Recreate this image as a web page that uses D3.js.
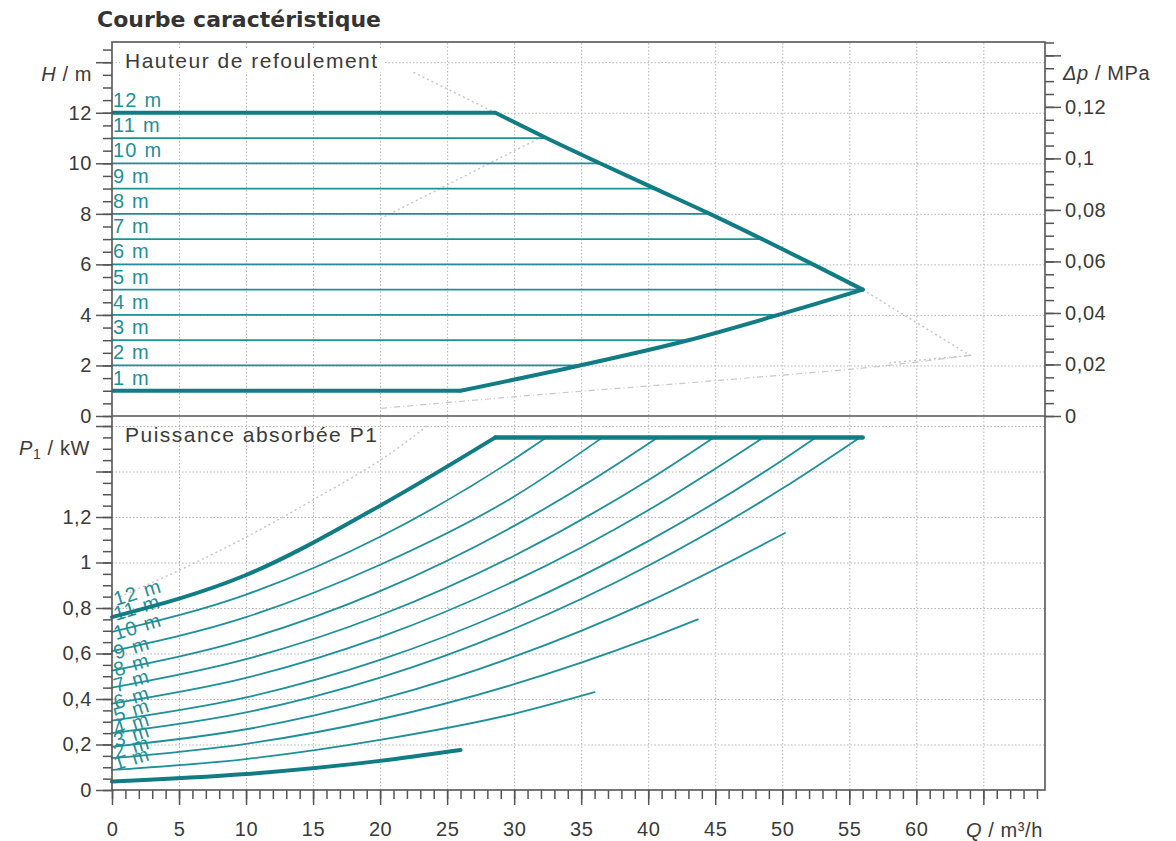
<!DOCTYPE html>
<html>
<head>
<meta charset="utf-8">
<script src="https://cdn.jsdelivr.net/npm/d3@7"></script>
<style>
  body { margin: 0; background: #fff; }
  text { font-family: "Liberation Sans", Arial, sans-serif; }
</style>
</head>
<body>
<svg id="chart" width="1176" height="841"></svg>
<script>
// courbes par hauteur (m)
const heads = [1, 2, 3, 4, 5, 6, 7, 8, 9, 10, 11, 12];
// debit ou la droite H s'arrete (diagramme du haut)
const hEnd = [26, 34.9, 43.0, 49.7, 56, 52.3, 48.5, 44.6, 40.5, 36.4, 32.4, 28.6];

// puissance P1 (kW) lue a Q = 0, 10, 20, 30, 40, 50
const flowSteps = [0, 10, 20, 30, 40, 50];
const p1m  = [0.037, 0.070, 0.128];
const p2m  = [0.088, 0.136, 0.220, 0.335];
const p3m  = [0.140, 0.203, 0.311, 0.465, 0.665];
const p4m  = [0.190, 0.267, 0.399, 0.586, 0.827];
const p5m  = [0.250, 0.341, 0.494, 0.709, 0.986, 1.325];
const p6m  = [0.305, 0.407, 0.572, 0.801, 1.094, 1.450];
const p7m  = [0.380, 0.493, 0.672, 0.918, 1.230];
const p8m  = [0.450, 0.575, 0.768, 1.030, 1.362];
const p9m  = [0.525, 0.662, 0.874, 1.161, 1.522];
const p10m = [0.610, 0.760, 0.990, 1.290];
const p11m = [0.695, 0.859, 1.113, 1.455];
const p12m = [0.760, 0.945, 1.250];
const powerByHead = [p1m, p2m, p3m, p4m, p5m, p6m, p7m, p8m, p9m, p10m, p11m, p12m];
// fin de chaque courbe de puissance
const pEndQ = [26, 36, 43.7, 50.2, 55.8, 52.5, 48.6, 44.9, 40.7, 36.6, 32.4, 28.6];
const pEndP = [0.176, 0.43, 0.75, 1.13, 1.55, 1.55, 1.55, 1.55, 1.55, 1.55, 1.55, 1.55];
// limite de puissance max
const pMaxLine = [[28.6, 1.55], [56, 1.55]];

// courbes grises en pointille (autre variante)
const ghostTop1 = [[22.5, 13.6], [28.6, 12]];
const ghostTop2 = [[56, 5], [64, 2.4], [58, 2.1]];
const ghostTop3 = [[64, 2.4], [57, 1.95], [45, 1.4], [32, 0.85], [20, 0.3]];
const ghostTop4 = [[20, 7.8], [31.9, 11]];
const ghostBot1 = [[0.6, 0.85], [6.6, 1.01], [15, 1.275], [21.5, 1.51], [23.5, 1.6]];

// axes
const qMajor = d3.range(0, 65.1, 5);
const qMinor = d3.range(0, 69.1, 1);
const hMajor = d3.range(0, 14.1, 2);
const hMinor = d3.range(0, 14.51, 0.5);
const pMajor = [0, 0.2, 0.4, 0.6, 0.8, 1, 1.2, 1.4, 1.6];
const pMinor = d3.range(0, 1.601, 0.05);
const dpMajor = [0, 0.02, 0.04, 0.06, 0.08, 0.1, 0.12, 0.14];
const dpMinor = d3.range(0, 0.1451, 0.005);
const rhoG = 0.00981; // MPa par m

const teal = "#1f9098", tealDark = "#127c84", ink = "#3a3a3a";

const svg = d3.select("#chart");
const L = 112, R = 1045, T = 42, M = 416, B = 790;
const x = d3.scaleLinear().domain([0, 69.6]).range([L, R]);
const yH = d3.scaleLinear().domain([0, 14.8]).range([M, T]);
const yP = d3.scaleLinear().domain([0, 1.644]).range([B, M]);
const yDp = d3.scaleLinear().domain([0, 14.8 * rhoG]).range([M, T]);

const comma = d => d === 0 ? "0" : String(+d.toFixed(3)).replace(".", ",");

// quadrillage
function grid(g) {
  g.select(".domain").remove();
  g.selectAll("line").attr("stroke", "#b5b5b5").attr("stroke-width", 1).attr("stroke-dasharray", "1.5,2");
}
svg.append("g").attr("transform", `translate(0,${B})`)
  .call(d3.axisBottom(x).tickValues(qMajor.filter(d => d > 0)).tickSize(-(B - T)).tickFormat(""))
  .call(grid);
svg.append("g").attr("transform", `translate(${L},0)`)
  .call(d3.axisLeft(yH).tickValues(hMajor.filter(d => d > 0)).tickSize(-(R - L)).tickFormat(""))
  .call(grid);
svg.append("g").attr("transform", `translate(${L},0)`)
  .call(d3.axisLeft(yP).tickValues(pMajor.filter(d => d > 0)).tickSize(-(R - L)).tickFormat(""))
  .call(grid);

// pointilles gris
const lineH = d3.line().x(d => x(d[0])).y(d => yH(d[1]));
const smoothH = d3.line().x(d => x(d[0])).y(d => yH(d[1])).curve(d3.curveCatmullRom);
const lineP = d3.line().x(d => x(d[0])).y(d => yP(d[1]));
const smoothP = d3.line().x(d => x(d[0])).y(d => yP(d[1])).curve(d3.curveMonotoneX);
[ghostTop1, ghostTop2, ghostTop4].forEach(g => {
  svg.append("path").attr("d", lineH(g)).attr("fill", "none")
    .attr("stroke", "#c4c4c4").attr("stroke-width", 1.4).attr("stroke-dasharray", "2,3");
});
svg.append("path").attr("d", smoothH(ghostTop3)).attr("fill", "none")
  .attr("stroke", "#c8c8c8").attr("stroke-width", 1.2).attr("stroke-dasharray", "6,3,1,3");
svg.append("path").attr("d", smoothP(ghostBot1)).attr("fill", "none")
  .attr("stroke", "#c4c4c4").attr("stroke-width", 1.4).attr("stroke-dasharray", "2,3");

// fond blanc du titre de panneau
svg.append("rect").attr("x", 120).attr("y", 50).attr("width", 264).attr("height", 22).attr("fill", "#fff");

// diagramme du haut : droites H
heads.forEach((h, i) => {
  const thick = (h === 1 || h === 12);
  svg.append("path").attr("d", lineH([[0, h], [hEnd[i], h]]))
    .attr("fill", "none").attr("stroke", thick ? tealDark : teal)
    .attr("stroke-width", thick ? 4 : 1.8);
  svg.append("text").attr("x", L + 1).attr("y", yH(h) - 6)
    .attr("font-size", 20).attr("letter-spacing", 1.2).attr("fill", teal)
    .text(h + " m");
});
// enveloppe : branche haute (12 -> 5 m) et branche basse (5 -> 1 m)
const upper = [11, 10, 9, 8, 7, 6, 5, 4].map(i => [hEnd[i], heads[i]]);
const lower = [4, 3, 2, 1, 0].map(i => [hEnd[i], heads[i]]);
[upper, lower].forEach(seg => {
  svg.append("path").attr("d", smoothH(seg))
    .attr("fill", "none").attr("stroke", tealDark).attr("stroke-width", 4)
    .attr("stroke-linejoin", "round").attr("stroke-linecap", "round");
});

// diagramme du bas : puissance
heads.forEach((h, i) => {
  const thick = (h === 1 || h === 12);
  const pts = powerByHead[i].map((p, j) => [flowSteps[j], p]);
  pts.push([pEndQ[i], pEndP[i]]);
  svg.append("path").attr("d", smoothP(pts))
    .attr("fill", "none").attr("stroke", thick ? tealDark : teal)
    .attr("stroke-width", thick ? 4 : 1.8).attr("stroke-linecap", "round");
  const lx = x(0.3), ly = yP(powerByHead[i][0]) - 11;
  svg.append("text").attr("transform", `translate(${lx},${ly}) rotate(-17)`)
    .attr("font-size", 20).attr("letter-spacing", 1.2).attr("fill", teal)
    .text(h + " m");
});
svg.append("path").attr("d", lineP(pMaxLine))
  .attr("fill", "none").attr("stroke", tealDark).attr("stroke-width", 4.5)
  .attr("stroke-linecap", "round");

// cadre
svg.append("rect").attr("x", L).attr("y", T).attr("width", R - L).attr("height", B - T)
  .attr("fill", "none").attr("stroke", "#555").attr("stroke-width", 1.6);
svg.append("line").attr("x1", L).attr("x2", R).attr("y1", M).attr("y2", M)
  .attr("stroke", "#555").attr("stroke-width", 1.6);

// graduations
function ticks(g) {
  g.select(".domain").remove();
  g.selectAll("line").attr("stroke", "#555").attr("stroke-width", 1.5);
  g.selectAll("text").attr("font-size", 20).attr("fill", ink).attr("letter-spacing", 0.6)
    .style("font-family", '"Liberation Sans", Arial, sans-serif');
}
// gauche H
svg.append("g").attr("transform", `translate(${L},0)`)
  .call(d3.axisLeft(yH).tickValues(hMinor).tickSize(9).tickFormat("")).call(ticks);
svg.append("g").attr("transform", `translate(${L},0)`)
  .call(d3.axisLeft(yH).tickValues(hMajor).tickSize(16).tickPadding(4)
    .tickFormat(d => d <= 12 ? comma(d) : "")).call(ticks);
// gauche P
svg.append("g").attr("transform", `translate(${L},0)`)
  .call(d3.axisLeft(yP).tickValues(pMinor).tickSize(9).tickFormat("")).call(ticks);
svg.append("g").attr("transform", `translate(${L},0)`)
  .call(d3.axisLeft(yP).tickValues(pMajor).tickSize(16).tickPadding(4)
    .tickFormat(d => d <= 1.2 ? comma(d) : "")).call(ticks);
// droite Δp
svg.append("g").attr("transform", `translate(${R},0)`)
  .call(d3.axisRight(yDp).tickValues(dpMinor).tickSize(9).tickFormat("")).call(ticks);
svg.append("g").attr("transform", `translate(${R},0)`)
  .call(d3.axisRight(yDp).tickValues(dpMajor).tickSize(16).tickPadding(4)
    .tickFormat(d => d <= 0.12 ? comma(d) : "")).call(ticks);
// bas Q
svg.append("g").attr("transform", `translate(0,${B})`)
  .call(d3.axisBottom(x).tickValues(qMinor).tickSize(9).tickFormat("")).call(ticks);
svg.append("g").attr("transform", `translate(0,${B})`)
  .call(d3.axisBottom(x).tickValues(qMajor).tickSize(15).tickPadding(17)
    .tickFormat(d => d <= 60 ? d : "")).call(ticks);

// titres d'axes
const axisTitle = (tx, ty, anchor) => svg.append("text").attr("x", tx).attr("y", ty)
  .attr("font-size", 20).attr("fill", ink).attr("text-anchor", anchor).attr("letter-spacing", 0.6);
let t = axisTitle(92, 81, "end");
t.append("tspan").attr("font-style", "italic").text("H");
t.append("tspan").text(" / m");
t = axisTitle(90, 455, "end");
t.append("tspan").attr("font-style", "italic").text("P");
t.append("tspan").attr("font-size", 14).attr("dy", 4).text("1");
t.append("tspan").attr("dy", -4).text(" / kW");
t = axisTitle(1063, 80, "start");
t.append("tspan").attr("font-style", "italic").text("Δp");
t.append("tspan").text(" / MPa");
t = axisTitle(1043, 837, "end");
t.append("tspan").attr("font-style", "italic").text("Q");
t.append("tspan").text(" / m³/h");

// titres des panneaux
svg.append("text").attr("x", 125).attr("y", 68).attr("font-size", 21).attr("letter-spacing", 1.5)
  .attr("fill", ink).text("Hauteur de refoulement");
svg.append("text").attr("x", 125).attr("y", 442).attr("font-size", 21).attr("letter-spacing", 1.5)
  .attr("fill", ink).text("Puissance absorbée P1");

// titre
svg.append("text").attr("x", 97).attr("y", 27).attr("font-size", 22).attr("font-weight", "bold")
  .style("font-family", '"DejaVu Sans", Verdana, sans-serif').attr("fill", "#333")
  .text("Courbe caractéristique");
</script>
</body>
</html>
